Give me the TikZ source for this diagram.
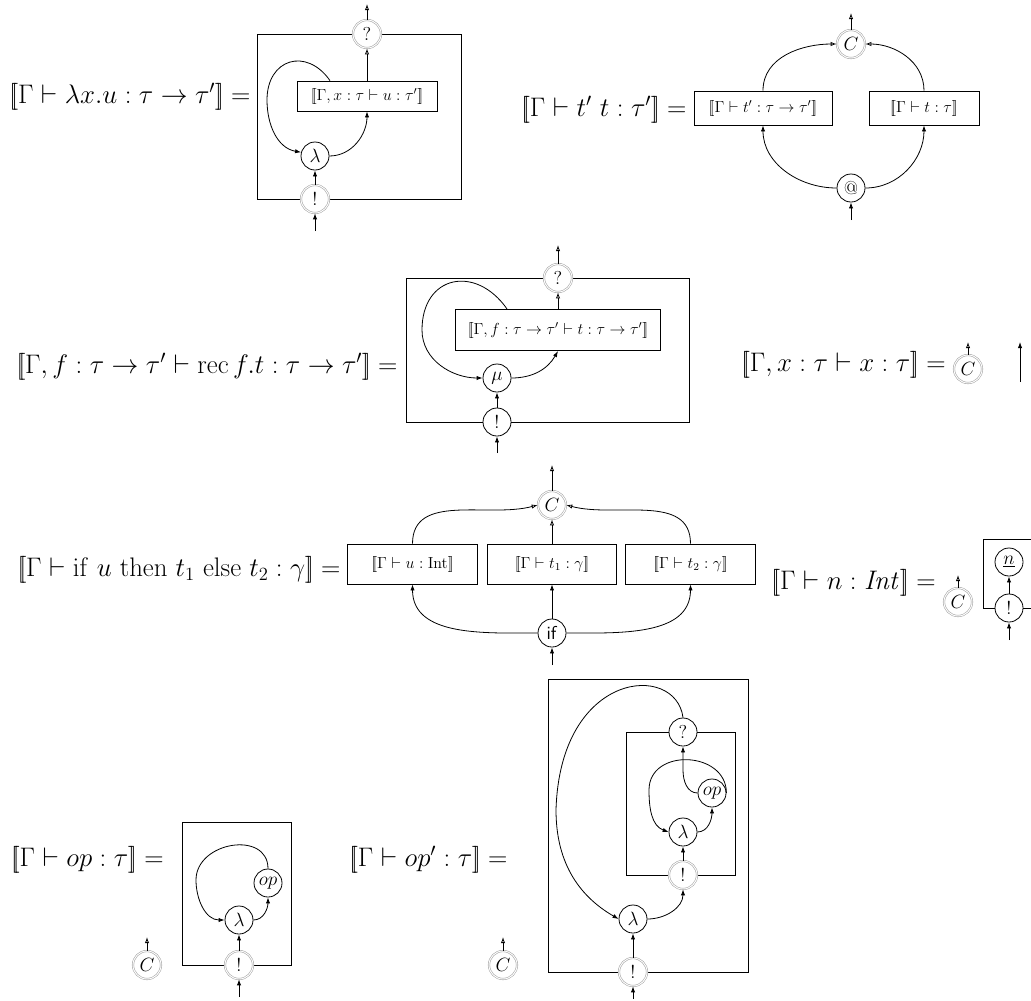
\documentclass[tikz,border=0pt]{standalone}
\usetikzlibrary{arrows.meta,calc}
\newcommand\lsem{\mathopen{[\mkern-3.2mu[}}
\newcommand\rsem{\mathclose{]\mkern-3.2mu]}}
\begin{document}
\begin{tikzpicture}[x=0.75pt,y=0.75pt,line width=0.6pt,
  frame/.style={draw,line width=0.6pt},
  lbl/.style={draw,rectangle,fill=white,inner sep=0pt,font=\fontsize{12}{14}\selectfont},
  blk/.style={circle,draw,fill=white,minimum size=21pt,inner sep=0pt,font=\fontsize{14}{16}\selectfont},
  gry/.style={circle,draw=gray!65,double=white,double distance=0.7pt,line width=0.45pt,fill=white,minimum size=21pt,inner sep=0pt,font=\fontsize{14}{16}\selectfont},
  eq/.style={anchor=east,inner sep=0pt,scale=0.97,transform shape,font=\fontsize{20.74}{24}\selectfont},
  fa/.style={-{Latex[length=4.5pt,width=3.2pt]}},
  oa/.style={-{Latex[open,length=4.5pt,width=3.2pt]}}]
\useasboundingbox (0,0) rectangle (1031,-1000);

% ---------- D1: lambda ----------
\draw[frame] (257,-34) rectangle (461,-199);
\node[eq] (f1) at (251,-97) {$\lsem\Gamma\vdash\lambda x.u:\tau\to\tau'\rsem=$};
\node[gry] (q1) at (367,-34) {?};
\node[lbl,minimum width=105pt,minimum height=22.5pt] (ib1) at (367,-96) {$\lsem\Gamma, x:\tau\vdash u:\tau'\rsem$};
\node[blk] (l1) at (315,-156) {$\lambda$};
\node[gry] (b1) at (315,-199) {!};
\coordinate (o1) at (367,-4);
\coordinate (i1) at (315,-231);
\draw[oa] (q1.north) -- (o1);
\draw[oa] (ib1.north) -- (q1.south);
\draw[fa] ($(ib1.north)+(-37,0)$) to[out=125,in=90,looseness=1.6] (267,-100) to[out=-90,in=170] (l1.165);
\draw[fa] (l1.east) to[out=0,in=-90] (ib1.south);
\draw[fa] (b1) -- (l1);
\draw[fa] (i1) -- (b1.south);

% ---------- D2: application ----------
\node[eq] (f2) at (687,-110) {$\lsem\Gamma\vdash t'\ t:\tau'\rsem=$};
\node[lbl,minimum width=103.5pt,minimum height=25.5pt] (bA) at (763,-108) {$\lsem\Gamma\vdash t':\tau\to\tau'\rsem$};
\node[lbl,minimum width=82.5pt,minimum height=25.5pt] (bB) at (924,-108) {$\lsem\Gamma\vdash t:\tau\rsem$};
\node[gry] (cA) at (851,-44) {$C$};
\node[blk] (at) at (851,-188) {@};
\coordinate (o2) at (851,-13);
\coordinate (i2) at (851,-220);
\draw[oa] (cA.north) -- (o2);
\draw[oa] (bA.north) to[out=90,in=180] (cA.west);
\draw[oa] (bB.north) to[out=90,in=0] (cA.east);
\draw[fa] (at.west) to[out=180,in=-90] (bA.south);
\draw[fa] (at.east) to[out=0,in=-90] (bB.south);
\draw[fa] (i2) -- (at.south);

% ---------- D3: rec ----------
\draw[frame] (406,-278) rectangle (689,-422);
\node[eq] (f3) at (398,-367) {$\lsem\Gamma, f:\tau\to\tau'\vdash\mathrm{rec}\,f.t:\tau\to\tau'\rsem=$};
\node[gry] (q3) at (558,-278) {?};
\node[lbl,minimum width=154pt,minimum height=31pt] (ib3) at (558,-330) {$\lsem\Gamma, f:\tau\to\tau'\vdash t:\tau\to\tau'\rsem$};
\node[blk] (mu) at (497,-378) {$\mu$};
\node[blk] (b3) at (497,-422) {!};
\coordinate (o3) at (558,-245);
\coordinate (i3) at (497,-453);
\draw[oa] (q3.north) -- (o3);
\draw[oa] (ib3.north) -- (q3.south);
\draw[fa] ($(ib3.north)+(-51,0)$) to[out=125,in=90,looseness=1.6] (422,-330) to[out=-90,in=180] (mu.west);
\draw[fa] (mu.east) to[out=0,in=-120] (ib3.south);
\draw[fa] (b3) -- (mu);
\draw[fa] (i3) -- (b3.south);

% ---------- D4: variable ----------
\node[eq] (f4) at (946,-365) {$\lsem\Gamma, x:\tau\vdash x:\tau\rsem=$};
\node[gry] (c4) at (968,-369) {$C$};
\coordinate (o4) at (968,-342);
\draw[oa] (c4.north) -- (o4);
\coordinate (w4a) at (1020,-382);
\coordinate (w4b) at (1020,-342);
\draw[fa] (w4a) -- (w4b);

% ---------- D5: if ----------
\node[eq] (f5) at (341,-570) {$\lsem\Gamma\vdash\mathrm{if}\ u\ \mathrm{then}\ t_1\ \mathrm{else}\ t_2:\gamma\rsem=$};
\node[lbl,minimum width=97pt,minimum height=30pt] (bU) at (412.5,-564) {$\lsem\Gamma\vdash u:\mathrm{Int}\rsem$};
\node[lbl,minimum width=97pt,minimum height=30pt] (bT1) at (552,-564) {$\lsem\Gamma\vdash t_1:\gamma\rsem$};
\node[lbl,minimum width=97pt,minimum height=30pt] (bT2) at (690.5,-564) {$\lsem\Gamma\vdash t_2:\gamma\rsem$};
\node[gry] (c5) at (552,-505) {$C$};
\node[blk] (ifn) at (552,-633) {\textsf{if}};
\coordinate (o5) at (552,-465);
\coordinate (i5) at (552,-665);
\draw[oa] (c5.north) -- (o5);
\draw[oa] (bU.north) to[out=90,in=195] (c5.west);
\draw[oa] (bT1.north) -- (c5.south);
\draw[oa] (bT2.north) to[out=90,in=-15] (c5.east);
\draw[fa] (ifn.west) to[out=180,in=-90] (bU.south);
\draw[fa] (ifn.north) -- (bT1.south);
\draw[fa] (ifn.east) to[out=0,in=-90] (bT2.south);
\draw[fa] (i5) -- (ifn.south);

% ---------- D6: constant ----------
\node[eq] (f6) at (936,-583) {$\lsem\Gamma\vdash n:\mathit{Int}\rsem=$};
\node[gry] (c6) at (958,-602) {$C$};
\coordinate (o6) at (958,-575);
\draw[oa] (c6.north) -- (o6);
\draw[frame] (983,-539) rectangle (1060,-608);
\node[blk] (n6) at (1009,-562) {$\underline{n}$};
\node[blk] (b6) at (1009,-608) {!};
\coordinate (i6) at (1009,-640);
\draw[fa] (b6) -- (n6);
\draw[fa] (i6) -- (b6.south);

% ---------- D7: op ----------
\node[eq] (f7) at (164,-860) {$\lsem\Gamma\vdash op:\tau\rsem=$};
\node[gry] (c7) at (147,-965) {$C$};
\coordinate (o7) at (147,-937);
\draw[oa] (c7.north) -- (o7);
\draw[frame] (182,-822) rectangle (291,-965);
\node[blk] (op7) at (268,-883) {$op$};
\node[blk] (l7) at (239,-920) {$\lambda$};
\node[gry] (b7) at (239,-965) {!};
\coordinate (i7) at (239,-997);
\draw[fa] (op7.north) to[out=90,in=90,looseness=1.35] (196,-880) to[out=-90,in=180] (l7.west);
\draw[fa] (l7.east) to[out=0,in=-90] (op7.south);
\draw[fa] (b7) -- (l7);
\draw[fa] (i7) -- (b7.south);

% ---------- D8: op' ----------
\node[eq] (f8) at (508,-860) {$\lsem\Gamma\vdash op':\tau\rsem=$};
\node[gry] (c8) at (503,-965) {$C$};
\coordinate (o8) at (503,-937);
\draw[oa] (c8.north) -- (o8);
\draw[frame] (548,-679) rectangle (748,-972);
\draw[frame] (626,-732) rectangle (735,-875);
\node[blk] (q8) at (683,-732) {?};
\node[gry] (bi8) at (683,-875) {!};
\node[blk] (li8) at (683,-832) {$\lambda$};
\node[blk] (op8) at (712,-793) {$op$};
\node[blk] (lo8) at (633,-919) {$\lambda$};
\node[gry] (bo8) at (633,-972) {!};
\coordinate (i8) at (633,-999);
\draw[fa] (q8.north) .. controls (676,-662) and (560,-670) .. (556,-810) to[out=-90,in=150] (lo8.west);
\draw[fa] (lo8.east) to[out=0,in=-90] (bi8.south);
\draw[fa] (bo8) -- (lo8);
\draw[fa] (bi8) -- (li8);
\draw[fa] (li8.east) to[out=0,in=-90] (op8.south);
\draw[fa] (op8.west) to[out=180,in=-90] (683,-770) -- (q8.south);
\draw[fa] (op8.east) to[out=90,in=90,looseness=1.4] (649,-790) to[out=-90,in=160] (li8.west);
\draw[fa] (i8) -- (bo8.south);
\end{tikzpicture}
\end{document}
